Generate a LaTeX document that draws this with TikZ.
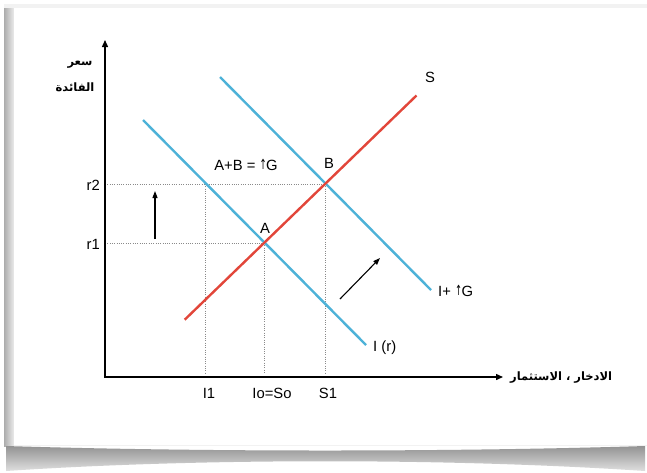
\documentclass[tikz,border=0pt]{standalone}
\usepackage{fontspec}
\setmainfont{Liberation Sans}
\newfontfamily\arabicfont[Script=Arabic]{DejaVu Sans}
\newfontfamily\symfont{DejaVu Sans}
\TeXXeTstate=1
\usetikzlibrary{arrows.meta,calc}
\definecolor{curveblue}{HTML}{4DB2D8}
\definecolor{curvered}{HTML}{E2463A}
\definecolor{dotgray}{HTML}{8A8A8A}
\tikzset{
  axis/.style={line width=1.4pt,-{Triangle[length=7pt,width=6pt]}},
  bluecurve/.style={curveblue,line width=2.4pt},
  redcurve/.style={curvered,line width=2.4pt},
  guide/.style={dotgray,line width=0.9pt,dash pattern=on 1pt off 1.3pt},
  shiftarrow/.style={line width=1.1pt,-{Triangle[length=7pt,width=5pt]}},
  lbl/.style={font=\fontsize{14.8}{16}\selectfont,inner sep=0pt},
  arlbl/.style={font=\arabicfont\bfseries\fontsize{11.5}{13}\selectfont,inner sep=0pt}
}
\newcommand{\upG}{{\symfont\fontsize{14}{14}\selectfont\raisebox{0.5pt}{\scalebox{0.6}[1]{↑}}}\kern-0.5pt G}
\begin{document}
\begin{tikzpicture}[x=1pt,y=-1pt]
\useasboundingbox (0,0) rectangle (647,472);
% card background and shadow
\fill[white] (0,0) rectangle (647,472);
\fill[gray!10] (4,4) rectangle (647,446);
\shade[left color=gray!65,right color=gray!15] (4,8) rectangle (14,446);
\shade[top color=gray!85,bottom color=gray!25] (6,446) .. controls (200,452) and (450,452) .. (645,446) -- (645,471) .. controls (450,458) and (200,458) .. (6,471) -- cycle;
\fill[white] (14,8) rectangle (647,445);
% key points
\coordinate (O) at (105,377);
\coordinate (Ytop) at (105,40);
\coordinate (Xend) at (503,377);
\coordinate (A) at (264,243);
\coordinate (B) at (325,184);
\coordinate (R2) at (105,184);
\coordinate (R1) at (105,243);
\coordinate (P1) at (205,184);
\coordinate (F1) at (205,374);
\coordinate (F0) at (264,374);
\coordinate (FS) at (325,374);
\coordinate (Ir0) at (143,120);
\coordinate (Ir1) at (366,345);
\coordinate (IG0) at (220,77);
\coordinate (IG1) at (431,290);
\coordinate (S0) at ($(A)!-1.3!(B)$);
\coordinate (S1) at ($(A)!2.5!(B)$);
\coordinate (U0) at (155,239);
\coordinate (U1) at (155,191);
\coordinate (D0) at (340,299);
\coordinate (D1) at (380,258);
% guides
\draw[guide] (R2) -- (B);
\draw[guide] (R1) -- (A);
\draw[guide] (P1) -- (F1);
\draw[guide] (A) -- (F0);
\draw[guide] (B) -- (FS);
% curves
\draw[bluecurve] (Ir0) -- (Ir1);
\draw[bluecurve] (IG0) -- (IG1);
\draw[redcurve] (S0) -- (S1);
% axes
\draw[axis] (O) -- (Ytop);
\draw[axis] ($(O)+(-1,0)$) -- (Xend);
% shift arrows
\draw[shiftarrow] (U0) -- (U1);
\draw[shiftarrow] (D0) -- (D1);
% labels
\node[lbl,anchor=east] (lr2) at (100,185) {r2};
\node[lbl,anchor=east] (lr1) at (100,244) {r1};
\node[lbl] (lI1) at (209,393) {I1};
\node[lbl] (lIo) at (272,393) {Io=So};
\node[lbl] (lS1) at (328,393) {S1};
\node[lbl] (lAB) at (246,165) {A+B = \upG};
\node[lbl] (lB) at (329,163) {B};
\node[lbl] (lA) at (265,228) {A};
\node[lbl] (lS) at (430,77) {S};
\node[lbl,anchor=west] (lIr) at (373,348) {I (r)};
\node[lbl,anchor=west] (lIG) at (438,291) {I+ \upG};
\node[arlbl] (ay1) at (80,65) {\beginR سعر\endR};
\node[arlbl] (ay2) at (75,87) {\beginR الفائدة\endR};
\node[arlbl,anchor=west] (ax) at (510,378) {\beginR الادخار ، الاستثمار\endR};
\end{tikzpicture}
\end{document}
